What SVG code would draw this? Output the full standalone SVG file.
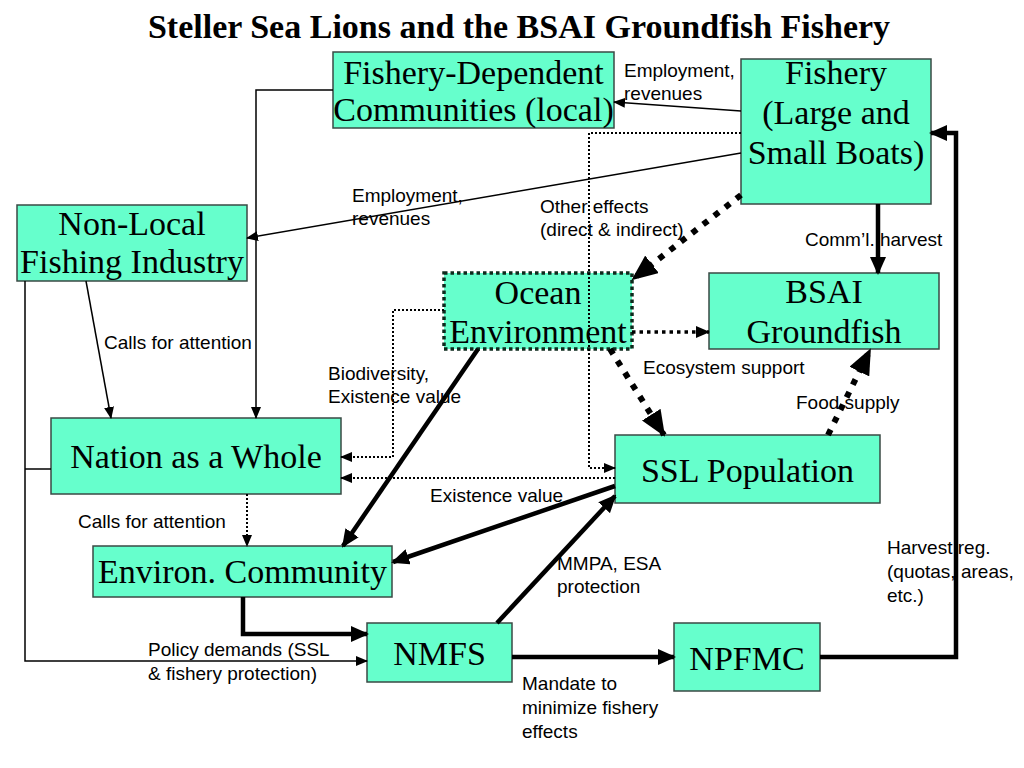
<svg xmlns="http://www.w3.org/2000/svg" width="1024" height="768" viewBox="0 0 1024 768">
<style>
.box{fill:#66FFCC;stroke:#3a4a44;stroke-width:1.5}
.ocean{fill:#66FFCC;stroke:#0d2a1c;stroke-width:3.5;stroke-dasharray:3.5 3}
.nt{font-family:"Liberation Serif","Times New Roman",serif;font-size:34px;fill:#000;text-anchor:middle}
.title{font-family:"Liberation Serif","Times New Roman",serif;font-size:34px;font-weight:bold;fill:#000;text-anchor:middle}
.lb{font-family:"Liberation Sans",Arial,sans-serif;font-size:19px;fill:#000}
.thin{fill:none;stroke:#000;stroke-width:1.5}
.dot{fill:none;stroke:#000;stroke-width:2;stroke-dasharray:2 2}
.thick{fill:none;stroke:#000;stroke-width:4.5}
.bigdot{fill:none;stroke:#000;stroke-width:6;stroke-dasharray:6 8}
.meddot{fill:none;stroke:#000;stroke-width:3.5;stroke-dasharray:3.5 4}
</style>
<defs>
<marker id="aThin" markerUnits="userSpaceOnUse" markerWidth="12" markerHeight="10" refX="11" refY="5" orient="auto"><path d="M0,0 L12,5 L0,10 z" fill="#000"/></marker>
<marker id="aThick" markerUnits="userSpaceOnUse" markerWidth="18" markerHeight="16" refX="16" refY="8" orient="auto"><path d="M0,0 L18,8 L0,16 z" fill="#000"/></marker>
<marker id="aBig" markerUnits="userSpaceOnUse" markerWidth="26" markerHeight="22" refX="24" refY="11" orient="auto"><path d="M0,0 L26,11 L0,22 z" fill="#000"/></marker>
<marker id="aMed" markerUnits="userSpaceOnUse" markerWidth="14" markerHeight="12" refX="13" refY="6" orient="auto"><path d="M0,0 L14,6 L0,12 z" fill="#000"/></marker>
</defs>
<rect width="1024" height="768" fill="#fff"/>
<text class="title" x="519" y="38">Steller Sea Lions and the BSAI Groundfish Fishery</text>

<g id="node-fdc"><rect class="box" x="333" y="52" width="281" height="76"/><text class="nt" x="473.5" y="84">Fishery-Dependent</text><text class="nt" x="473.5" y="121">Communities (local)</text></g>
<g id="node-fishery"><rect class="box" x="741" y="59" width="190" height="145"/><text class="nt" x="836" y="84">Fishery</text><text class="nt" x="836" y="124">(Large and</text><text class="nt" x="836" y="164">Small Boats)</text></g>
<g id="node-nonlocal"><rect class="box" x="17" y="205" width="230" height="76"/><text class="nt" x="132" y="235">Non-Local</text><text class="nt" x="132" y="273">Fishing Industry</text></g>
<g id="node-ocean"><rect class="ocean" x="444" y="273" width="188" height="76"/><text class="nt" x="538" y="304">Ocean</text><text class="nt" x="538" y="343">Environment</text></g>
<g id="node-bsai"><rect class="box" x="709" y="273" width="230" height="76"/><text class="nt" x="824" y="303">BSAI</text><text class="nt" x="824" y="343">Groundfish</text></g>
<g id="node-nation"><rect class="box" x="51" y="418" width="290" height="76"/><text class="nt" x="196" y="468">Nation as a Whole</text></g>
<g id="node-ssl"><rect class="box" x="615" y="435" width="265" height="68"/><text class="nt" x="747.5" y="482">SSL Population</text></g>
<g id="node-environ"><rect class="box" x="93" y="546" width="299" height="51"/><text class="nt" x="242.5" y="583">Environ. Community</text></g>
<g id="node-nmfs"><rect class="box" x="367" y="623" width="145" height="59"/><text class="nt" x="439.5" y="665">NMFS</text></g>
<g id="node-npfmc"><rect class="box" x="674" y="623" width="146" height="68"/><text class="nt" x="747" y="670">NPFMC</text></g>

<g id="labels">
<text class="lb" x="624" y="77">Employment,</text><text class="lb" x="624" y="100">revenues</text>
<text class="lb" x="352" y="202">Employment,</text><text class="lb" x="352" y="225">revenues</text>
<text class="lb" x="540" y="213">Other effects</text><text class="lb" x="540" y="236">(direct &amp; indirect)</text>
<text class="lb" x="805" y="246">Comm’l. harvest</text>
<text class="lb" x="104" y="349">Calls for attention</text>
<text class="lb" x="328" y="380">Biodiversity,</text><text class="lb" x="328" y="403">Existence value</text>
<text class="lb" x="643" y="374">Ecosystem support</text>
<text class="lb" x="796" y="409">Food supply</text>
<text class="lb" x="430" y="502">Existence value</text>
<text class="lb" x="78" y="528">Calls for attention</text>
<text class="lb" x="557" y="570">MMPA, ESA</text><text class="lb" x="557" y="593">protection</text>
<text class="lb" x="887" y="554">Harvest reg.</text><text class="lb" x="887" y="578">(quotas, areas,</text><text class="lb" x="887" y="602">etc.)</text>
<text class="lb" x="148" y="656">Policy demands (SSL</text><text class="lb" x="148" y="680">&amp; fishery protection)</text>
<text class="lb" x="522" y="690">Mandate to</text><text class="lb" x="522" y="714">minimize fishery</text><text class="lb" x="522" y="738">effects</text>
</g>

<g id="connectors">
<path class="thin" d="M741,111 L614,102" marker-end="url(#aThin)"/>
<path class="thin" d="M741,153 L247,238" marker-end="url(#aThin)"/>
<path class="thin" d="M333,90 H256 V418" marker-end="url(#aThin)"/>
<path class="thin" d="M86,281 L111,418" marker-end="url(#aThin)"/>
<path class="thin" d="M25,281 V661 H367" marker-end="url(#aThin)"/>
<path class="thin" d="M25,469 H51"/>
<path class="bigdot" d="M741,195 L633,279" marker-end="url(#aBig)"/>
<path class="thick" d="M878,204 V273" marker-end="url(#aThick)"/>
<path class="dot" d="M741,133 H589 V468 H615" marker-end="url(#aThin)"/>
<path class="meddot" d="M632,332 H709" marker-end="url(#aMed)"/>
<path class="bigdot" d="M610,349 L664,435" marker-end="url(#aBig)"/>
<path class="bigdot" d="M828,435 L870,350" marker-end="url(#aBig)"/>
<path class="dot" d="M444,310 H393 V457 H341" marker-end="url(#aThin)"/>
<path class="dot" d="M615,478 H341" marker-end="url(#aThin)"/>
<path class="thick" d="M478,349 L343,546" marker-end="url(#aThick)"/>
<path class="thick" d="M615,486 L393,562" marker-end="url(#aThick)"/>
<path class="dot" d="M247,494 V546" marker-end="url(#aThin)"/>
<path class="thick" d="M243,597 V634 H367" marker-end="url(#aThick)"/>
<path class="thick" d="M497,623 L615,496" marker-end="url(#aThick)"/>
<path class="thick" d="M512,657 H674" marker-end="url(#aThick)"/>
<path class="thick" d="M820,657 H956 V133 H931" marker-end="url(#aThick)"/>
</g>
</svg>
